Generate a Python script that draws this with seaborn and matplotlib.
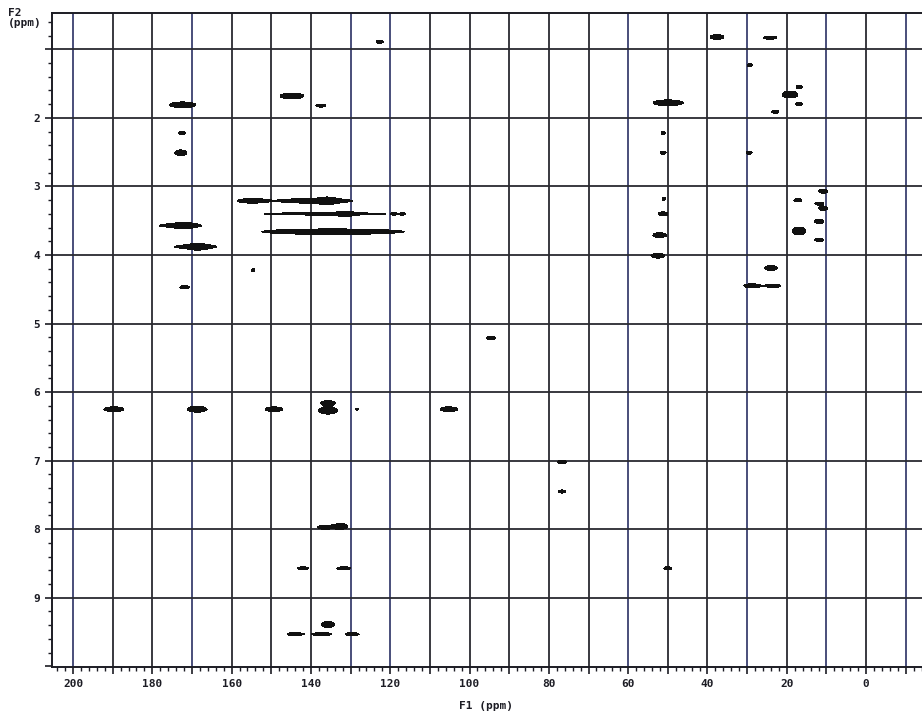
import numpy as np
import matplotlib
matplotlib.use("Agg")
import matplotlib.pyplot as plt
import seaborn as sns
from matplotlib.ticker import MultipleLocator, FuncFormatter

# ---- peak list (F1 = 13C ppm, F2 = 1H ppm, widths in ppm) ----
f1 = [122.6, 37.6, 24.2, 29.3, 172.3, 144.8, 137.5, 172.5, 172.8, 49.9,
      16.9, 19.2, 16.9, 22.9, 51.2, 51.2, 29.5, 51.0, 51.2, 52.0,
      52.5, 17.2, 16.9, 10.8, 11.8, 10.8, 11.8, 11.8, 24.0, 28.8,
      23.4, 173.0, 172.0, 169.2, 168.5, 155.1, 139.0, 135.9, 136.5, 131.4,
      119.0, 117.0, 134.5, 189.7, 168.7, 149.3, 135.7, 135.7, 105.2, 128.4,
      94.6, 76.7, 76.7, 171.8, 154.6, 136.5, 132.5, 142.0, 131.7, 50.0,
      135.7, 144.0, 137.2, 129.6]
f2 = [0.89, 0.82, 0.83, 1.23, 1.81, 1.68, 1.82, 2.22, 2.51, 1.78,
      1.55, 1.66, 1.80, 1.91, 2.22, 2.51, 2.51, 3.18, 3.40, 3.71,
      4.01, 3.20, 3.65, 3.07, 3.25, 3.32, 3.51, 3.78, 4.19, 4.45,
      4.45, 3.57, 3.57, 3.88, 3.88, 3.21, 3.21, 3.21, 3.40, 3.40,
      3.40, 3.40, 3.66, 6.25, 6.25, 6.25, 6.16, 6.27, 6.25, 6.25,
      5.21, 7.02, 7.45, 4.47, 4.22, 7.97, 7.96, 8.57, 8.57, 8.57,
      9.39, 9.53, 9.53, 9.53]
w1 = [1.8, 3.5, 3.5, 1.3, 6.6, 6.0, 2.5, 1.8, 3.0, 7.6,
      1.5, 4.0, 1.8, 1.8, 1.0, 1.5, 1.5, 0.8, 2.5, 3.5,
      3.5, 2.0, 3.5, 2.3, 2.3, 2.3, 2.3, 2.3, 3.3, 4.0,
      3.8, 10.6, 3.8, 10.6, 3.8, 6.3, 19.0, 3.5, 31.0, 4.0,
      1.0, 1.0, 36.0, 5.0, 5.0, 4.5, 3.5, 5.0, 4.5, 0.6,
      2.3, 2.3, 2.0, 2.5, 0.8, 3.5, 3.5, 2.8, 3.5, 2.0,
      3.5, 4.0, 5.0, 3.5]
w2 = [0.045, 0.07, 0.045, 0.045, 0.085, 0.085, 0.045, 0.045, 0.085, 0.085,
      0.045, 0.10, 0.045, 0.045, 0.045, 0.045, 0.045, 0.045, 0.06, 0.07,
      0.07, 0.045, 0.115, 0.06, 0.045, 0.06, 0.07, 0.045, 0.07, 0.06,
      0.045, 0.055, 0.085, 0.055, 0.085, 0.06, 0.07, 0.09, 0.035, 0.08,
      0.03, 0.03, 0.08, 0.07, 0.085, 0.07, 0.07, 0.10, 0.07, 0.03,
      0.045, 0.045, 0.045, 0.045, 0.045, 0.06, 0.085, 0.045, 0.045, 0.045,
      0.085, 0.045, 0.045, 0.045]

x_ticks = [200, 180, 160, 140, 120, 100, 80, 60, 40, 20, 0]
y_ticks = [2, 3, 4, 5, 6, 7, 8, 9]

sns.set_style("white")
plt.rcParams['font.family'] = ['DejaVu Sans Mono', 'DejaVu Sans']

fig = plt.figure(figsize=(9.22, 7.14), dpi=100)
ax = fig.add_axes([52/922, 1-667/714, 1-52/922, (667-13)/714])
xmin, xmax = 205.3, -14.1
ymin, ymax = 0.47, 10.01

# contour field from peak list
gx = np.linspace(-15, 206, 2200)
gy = np.linspace(0.4, 10.1, 1500)
X, Y = np.meshgrid(gx, gy)
Z = np.zeros_like(X)
k = np.sqrt(np.log(2))
for a, b, wa, wb in zip(f1, f2, w1, w2):
    sx = (wa / 2) / k
    sy = (wb / 2) / k
    Z += np.exp(-((X - a) / sx) ** 2 - ((Y - b) / sy) ** 2)
ax.contourf(X, Y, Z, levels=[0.5, 1e9], colors=['#111111'], zorder=3)

# grid lines
for v in range(200, -11, -10):
    col = '#3a4070' if v in (200, 170, 130, 120, 60, 30, 10, -10) else '#2a2a30'
    ax.axvline(v, color=col, lw=1.3, zorder=2)
for h in range(1, 10):
    ax.axhline(h, color='#2a2a30', lw=1.3, zorder=2)

ax.set_xlim(xmin, xmax)
ax.set_ylim(ymax, ymin)

ax.xaxis.set_major_locator(MultipleLocator(10))
ax.xaxis.set_minor_locator(MultipleLocator(2))
ax.xaxis.set_major_formatter(FuncFormatter(
    lambda v, p: f"{int(round(v))}" if int(round(v)) in x_ticks else ""))
ax.yaxis.set_major_locator(MultipleLocator(1))
ax.yaxis.set_minor_locator(MultipleLocator(0.2))
ax.yaxis.set_major_formatter(FuncFormatter(
    lambda v, p: f"{int(round(v))}" if int(round(v)) in y_ticks else ""))

ax.tick_params(axis='both', which='major', direction='out', length=5, width=1.2,
               labelsize=8, colors='#1c1c24', bottom=True, left=True)
ax.tick_params(axis='both', which='minor', direction='out', length=3, width=1.0,
               colors='#1c1c24', bottom=True, left=True)
for lab in ax.get_xticklabels() + ax.get_yticklabels():
    lab.set_fontweight('bold')

for s in ['left', 'bottom', 'top']:
    ax.spines[s].set_color('#1c1c24')
    ax.spines[s].set_linewidth(1.4)
ax.spines['right'].set_visible(False)

fig.text(8/922, 1-8/714, "F2\n(ppm)", ha='left', va='top', fontsize=8,
         fontweight='bold', color='#1c1c24', linespacing=1.0)
fig.text(486/922, 1-706/714, "F1 (ppm)", ha='center', va='center', fontsize=8,
         fontweight='bold', color='#1c1c24')

fig.savefig("out.png", dpi=100)
